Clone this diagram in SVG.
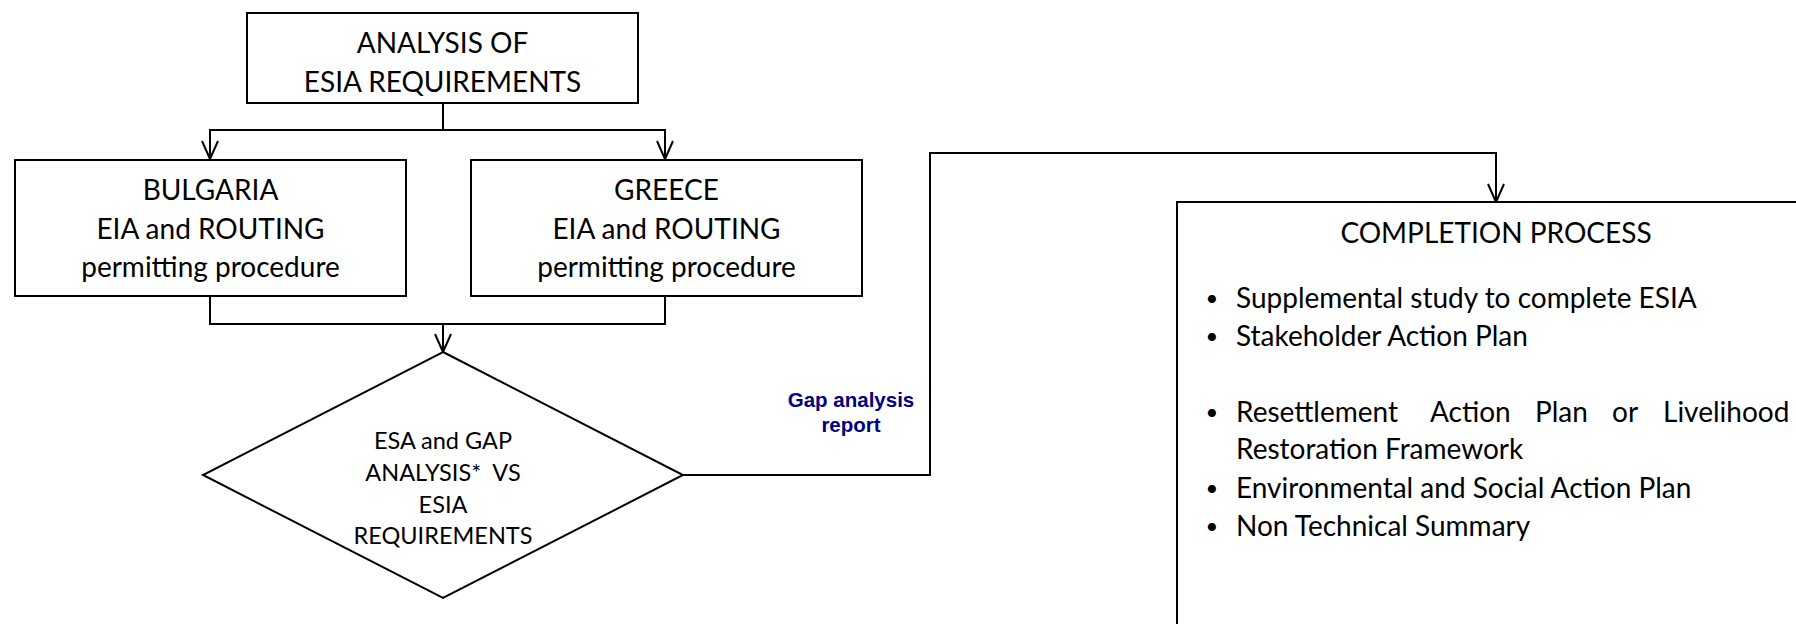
<svg xmlns="http://www.w3.org/2000/svg" width="1796" height="624" viewBox="0 0 1796 624">
<style>
.box{fill:#fff;stroke:#000;stroke-width:2}
.t{font-family:Lato,"Open Sans","Liberation Sans",sans-serif;font-size:28px;fill:#000}
.c{text-anchor:middle}
.d{font-size:23.5px}
.b{font-size:22px}
.lab{font-family:"Liberation Sans",Arial,sans-serif;font-weight:bold;font-size:20.5px;fill:#000080;text-anchor:middle}
.con{fill:none;stroke:#000;stroke-width:2}
</style>
<defs>
<marker id="arr" markerUnits="userSpaceOnUse" markerWidth="20" markerHeight="20" orient="auto" overflow="visible">
<path d="M-18,-8 L0,0 L-18,8" fill="none" stroke="#000" stroke-width="2"/>
</marker>
</defs>
<rect width="1796" height="624" fill="#fff"/>
<g id="connectors">
<path class="con" d="M443,103 V130 H210 V159" marker-end="url(#arr)"/>
<path class="con" d="M443,130 H665 V159" marker-end="url(#arr)"/>
<path class="con" d="M210,296 V324 H443 V352" marker-end="url(#arr)"/>
<path class="con" d="M665,296 V324 H443"/>
<path class="con" d="M683,475 H930 V153 H1496 V202" marker-end="url(#arr)"/>
</g>
<g id="analysis">
<rect class="box" x="247" y="13" width="391" height="90"/>
<text class="t c" x="442.5" y="53">ANALYSIS OF</text>
<text class="t c" x="442.5" y="92">ESIA REQUIREMENTS</text>
</g>
<g id="bulgaria">
<rect class="box" x="15" y="160" width="391" height="136"/>
<text class="t c" x="210.5" y="200">BULGARIA</text>
<text class="t c" x="210.5" y="239">EIA and ROUTING</text>
<text class="t c" x="210.5" y="277">permitting procedure</text>
</g>
<g id="greece">
<rect class="box" x="471" y="160" width="391" height="136"/>
<text class="t c" x="666.5" y="200">GREECE</text>
<text class="t c" x="666.5" y="239">EIA and ROUTING</text>
<text class="t c" x="666.5" y="277">permitting procedure</text>
</g>
<g id="gap-analysis">
<polygon class="box" points="443,352 683,475 443,598 203,475"/>
<text class="t d c" x="443" y="449">ESA and GAP</text>
<text class="t d c" x="443" y="481" xml:space="preserve">ANALYSIS*  VS</text>
<text class="t d c" x="443" y="513">ESIA</text>
<text class="t d c" x="443" y="544">REQUIREMENTS</text>
</g>
<g id="gap-label">
<text class="lab" x="851" y="407">Gap analysis</text>
<text class="lab" x="851" y="432">report</text>
</g>
<g id="completion">
<rect class="box" x="1177" y="202" width="700" height="500"/>
<text class="t c" x="1496" y="243">COMPLETION PROCESS</text>
<text class="t b c" x="1212" y="306">•</text>
<text class="t" x="1236" y="308">Supplemental study to complete ESIA</text>
<text class="t b c" x="1212" y="344">•</text>
<text class="t" x="1236" y="346">Stakeholder Action Plan</text>
<text class="t b c" x="1212" y="420">•</text>
<text class="t" y="422"><tspan x="1236">Resettlement</tspan><tspan x="1430">Action</tspan><tspan x="1535">Plan</tspan><tspan x="1612">or</tspan><tspan x="1663">Livelihood</tspan></text>
<text class="t" x="1236" y="459">Restoration Framework</text>
<text class="t b c" x="1212" y="496">•</text>
<text class="t" x="1236" y="498">Environmental and Social Action Plan</text>
<text class="t b c" x="1212" y="534">•</text>
<text class="t" x="1236" y="536">Non Technical Summary</text>
</g>
</svg>
